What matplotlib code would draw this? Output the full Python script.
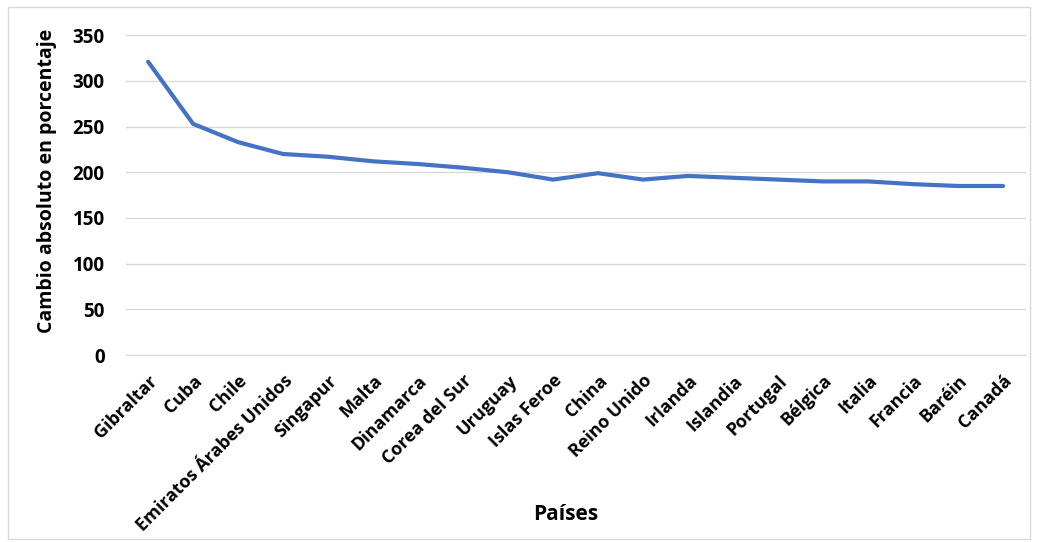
import matplotlib.pyplot as plt
from matplotlib.patches import Rectangle

plt.rcParams["font.family"] = ["Open Sans", "DejaVu Sans"]

paises = ["Gibraltar", "Cuba", "Chile", "Emiratos Árabes Unidos", "Singapur", "Malta",
          "Dinamarca", "Corea del Sur", "Uruguay", "Islas Feroe", "China", "Reino Unido",
          "Irlanda", "Islandia", "Portugal", "Bélgica", "Italia", "Francia", "Baréin", "Canadá"]
cambio = [321, 253, 233, 220, 217, 212, 209, 205, 200, 192, 199, 192,
          196, 194, 192, 190, 190, 187, 185, 185]
yticks = [0, 50, 100, 150, 200, 250, 300, 350]

fig = plt.figure(figsize=(10.38, 5.42), dpi=100)
ax = fig.add_axes([0.121, 0.345, 0.867, 0.59])

ax.plot(range(len(paises)), cambio, color="#4472C4", linewidth=3, solid_capstyle="round")

ax.set_xlim(-0.5, len(paises) - 0.5)
ax.set_ylim(0, 350)
ax.set_yticks(yticks)
ax.grid(axis="y", color="#d9d9d9", linewidth=1)
ax.set_axisbelow(True)
for s in ["top", "right", "left"]:
    ax.spines[s].set_visible(False)
ax.spines["bottom"].set_color("#d9d9d9")
ax.tick_params(axis="y", length=0, labelsize=13.5, pad=15)
ax.tick_params(axis="x", length=0, labelsize=13, pad=12)
ax.set_xticks(range(len(paises)))
ax.set_xticklabels(paises, rotation=45, ha="right", rotation_mode="anchor", fontweight="bold")
for lbl in ax.get_yticklabels():
    lbl.set_fontweight("bold")

ax.set_ylabel("Cambio absoluto en porcentaje", fontsize=14, fontweight="bold")
ax.yaxis.set_label_coords(-0.076, 0.545)
fig.text(0.545, 0.04, "Países", fontsize=15, fontweight="bold", ha="center")

fig.patches.append(Rectangle((0.008, 0.006), 0.984, 0.982, transform=fig.transFigure,
                             fill=False, edgecolor="#d9d9d9", linewidth=1))

fig.savefig("out.png", dpi=100)
